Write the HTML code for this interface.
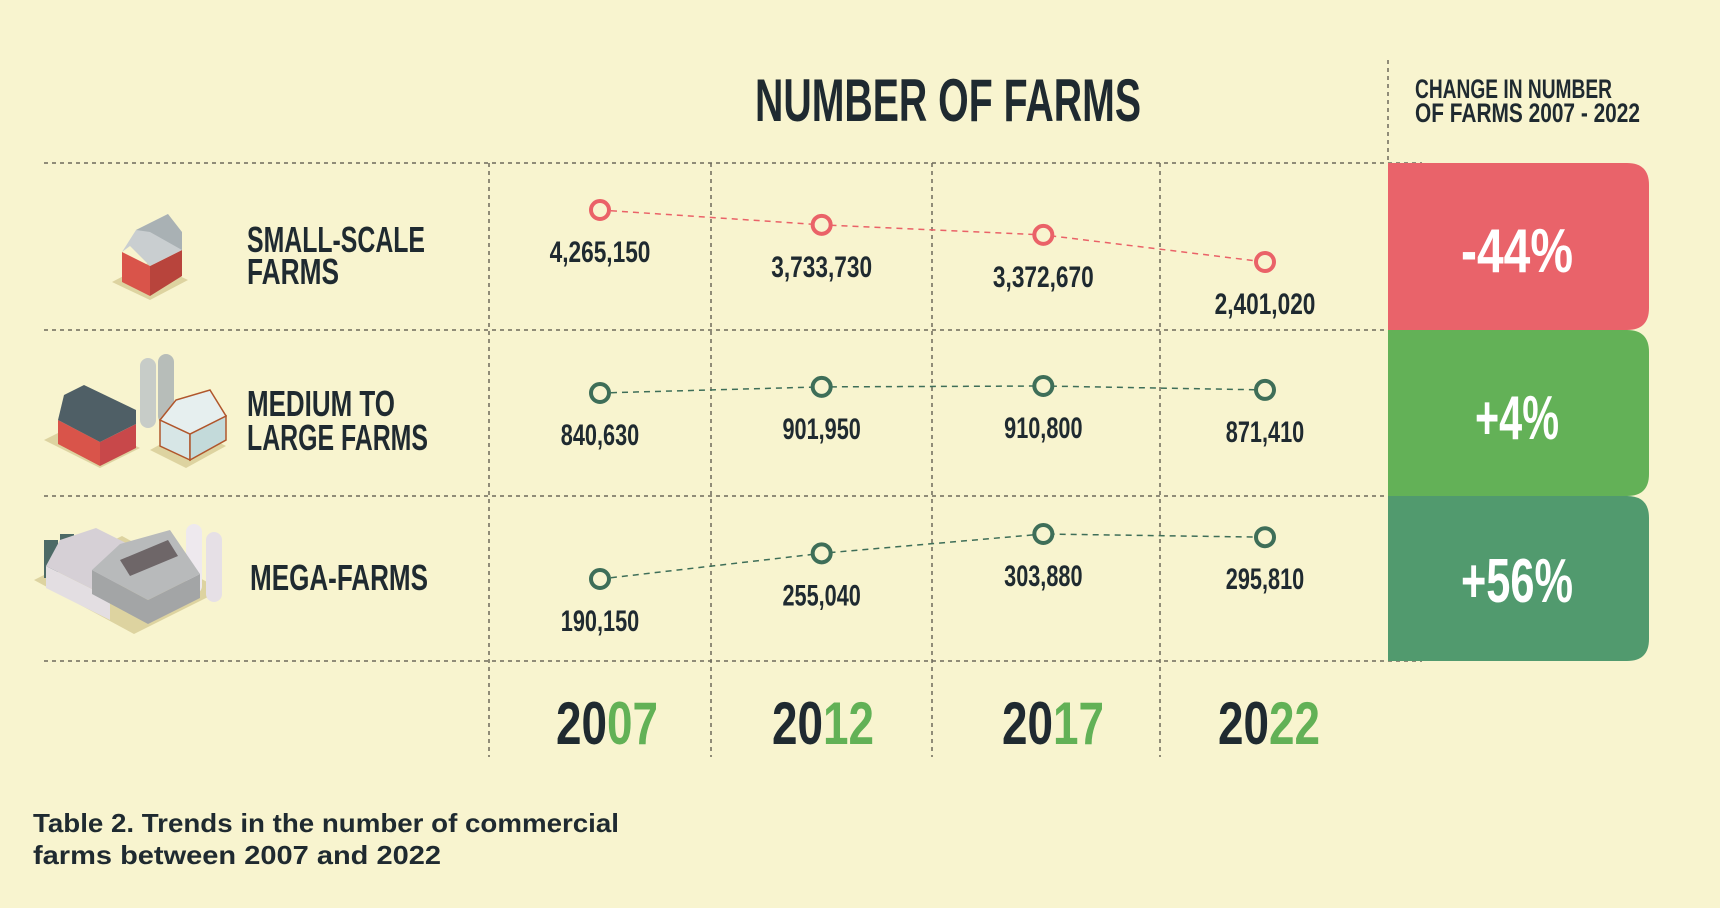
<!DOCTYPE html>
<html><head><meta charset="utf-8"><style>
html,body{margin:0;padding:0;background:#f8f4cf;}
svg{display:block;font-family:"Liberation Sans",sans-serif;}
</style></head><body>
<svg id="chart" width="1720" height="908" viewBox="0 0 1720 908" xmlns="http://www.w3.org/2000/svg">
<rect width="1720" height="908" fill="#f8f4cf"/>
<g id="grid" stroke="#6d6a5c" stroke-width="1.5" stroke-dasharray="4 4" fill="none">
<line x1="44" y1="163" x2="1422" y2="163"/><line x1="44" y1="330" x2="1422" y2="330"/>
<line x1="44" y1="496" x2="1422" y2="496"/><line x1="44" y1="661" x2="1422" y2="661"/>
<line x1="489" y1="163" x2="489" y2="757"/><line x1="711" y1="163" x2="711" y2="757"/>
<line x1="932" y1="163" x2="932" y2="757"/><line x1="1160" y1="163" x2="1160" y2="757"/>
<line x1="1388" y1="60" x2="1388" y2="163"/>
</g>
<text x="755" y="121" font-size="60" font-weight="bold" fill="#1f2a30" textLength="386" lengthAdjust="spacingAndGlyphs">NUMBER OF FARMS</text>
<text x="1415" y="98" font-size="27" font-weight="bold" fill="#1f2a30" textLength="197" lengthAdjust="spacingAndGlyphs">CHANGE IN NUMBER</text>
<text x="1415" y="122" font-size="27" font-weight="bold" fill="#1f2a30" textLength="225" lengthAdjust="spacingAndGlyphs">OF FARMS 2007 - 2022</text>

<g fill="#1f2a30" font-weight="bold" font-size="36">
<text x="247" y="252" textLength="178" lengthAdjust="spacingAndGlyphs">SMALL-SCALE</text>
<text x="247" y="284" textLength="92" lengthAdjust="spacingAndGlyphs">FARMS</text>
<text x="247" y="416" textLength="148" lengthAdjust="spacingAndGlyphs">MEDIUM TO</text>
<text x="247" y="450" textLength="181" lengthAdjust="spacingAndGlyphs">LARGE FARMS</text>
<text x="250" y="590" textLength="178" lengthAdjust="spacingAndGlyphs">MEGA-FARMS</text>
</g>

<!-- icons -->
<g>
<polygon points="112,282 150,300 188,280 150,262" fill="#ddd3a0"/>
<polygon points="122,252 150,266 150,296 122,282" fill="#d9544a"/>
<polygon points="150,266 182,250 182,276 150,296" fill="#b8443c"/>
<polygon points="122,252 136,230 168,214 182,250 150,266 130,246" fill="#c9ced0"/>
<polygon points="136,230 168,214 182,232 182,250 150,232" fill="#a9b1b4"/>
</g>
<g>
<polygon points="44,440 100,468 140,448 84,420" fill="#ddd3a0"/>
<rect x="140" y="358" width="16" height="70" rx="8" fill="#c7ccc8"/>
<rect x="158" y="354" width="16" height="70" rx="8" fill="#b7bdb9"/>
<polygon points="58,420 100,442 100,466 58,444" fill="#d9544a"/>
<polygon points="100,442 136,424 136,448 100,466" fill="#c8484a"/>
<polygon points="58,420 64,395 84,385 136,410 136,424 100,442" fill="#4f5f66"/>
<polygon points="150,450 186,468 226,446 190,428" fill="#ddd3a0"/>
<polygon points="160,420 190,434 190,460 160,446" fill="#d7e6e6" stroke="#b0562c" stroke-width="1.5"/>
<polygon points="190,434 226,416 226,440 190,460" fill="#c3dada" stroke="#b0562c" stroke-width="1.5"/>
<polygon points="160,420 176,400 210,390 226,416 190,434" fill="#e6efef" stroke="#b0562c" stroke-width="1.5"/>
</g>
<g>
<polygon points="34,580 134,634 222,590 122,536" fill="#ddd3a0"/>
<rect x="44" y="540" width="14" height="38" fill="#4d6a66"/><rect x="60" y="534" width="14" height="38" fill="#4d6a66"/>
<polygon points="46,566 110,598 110,620 46,588" fill="#e3dee2"/>
<polygon points="46,566 60,540 96,528 140,550 110,598" fill="#d6d0d6"/>
<rect x="186" y="524" width="16" height="70" rx="8" fill="#eee9ee"/>
<rect x="206" y="532" width="16" height="70" rx="8" fill="#e6e0e6"/>
<polygon points="92,594 148,624 200,598 200,574 148,600 92,570" fill="#a3a5a6"/>
<polygon points="92,570 120,544 170,530 200,574 148,600" fill="#b8babb"/>
<polygon points="120,560 168,540 178,556 130,576" fill="#6e6668"/>
</g>

<g id="boxes"></g>
<g id="series"></g>
<g id="years"></g>

<text x="33" y="832" font-size="26" fill="#1f2a30" font-weight="bold" textLength="586" lengthAdjust="spacingAndGlyphs">Table 2. Trends in the number of commercial</text>
<text x="33" y="864" font-size="26" fill="#1f2a30" font-weight="bold" textLength="408" lengthAdjust="spacingAndGlyphs">farms between 2007 and 2022</text>
</svg>
<script>
const years = ["2007","2012","2017","2022"];
const smallFarms = [4265150, 3733730, 3372670, 2401020];
const mediumFarms = [840630, 901950, 910800, 871410];
const megaFarms = [190150, 255040, 303880, 295810];
const changes = ["-44%","+4%","+56%"];

const NS = "http://www.w3.org/2000/svg";
function mk(tag, attrs, parent){const e=document.createElementNS(NS,tag);for(const k in attrs)e.setAttribute(k,attrs[k]);parent.appendChild(e);return e;}
function xScale(i){return 600 + i*((1265-600)/3);}
// per-row linear y scales: [valueMin, pixelAtMin, valueMax, pixelAtMax]
function makeY(vLo,pLo,vHi,pHi){return v=>pLo+(v-vLo)*(pHi-pLo)/(vHi-vLo);}
const rows = [
 {vals:smallFarms, y:makeY(2401020,262,4265150,210), color:"#ea6268", name:"small"},
 {vals:mediumFarms, y:makeY(840630,393,910800,386), color:"#3e6e58", name:"medium"},
 {vals:megaFarms, y:makeY(190150,579,303880,534), color:"#3e6e58", name:"mega"}
];
const fmt=v=>v.toLocaleString("en-US");
const sg=document.getElementById("series");
rows.forEach(r=>{
  const pts=r.vals.map((v,i)=>[xScale(i),r.y(v)]);
  const pl=mk("polyline",{points:pts.map(p=>p.join(",")).join(" "),fill:"none",stroke:r.color,"stroke-width":1.5,"stroke-dasharray":"6 5"},sg);
  
  
  pts.forEach((p,i)=>{
    const c=mk("circle",{cx:p[0],cy:p[1],r:9,fill:"#f8f4cf",stroke:r.color,"stroke-width":4},sg);
    
    
    const s=fmt(r.vals[i]);
    const t=mk("text",{x:p[0],y:p[1]+52,"text-anchor":"middle","font-size":30,"font-weight":"bold",fill:"#1f2a30",textLength:s.length*11.2,lengthAdjust:"spacingAndGlyphs"},sg);
    t.textContent=s;
    
    
  });
});
const bg=document.getElementById("boxes");
const boxColors=["#e9636a","#63b157","#519a6e"];
const boxY=[163,330,496,661];
const pctBase=[272,439,602];
changes.forEach((c,i)=>{
  const y0=boxY[i],y1=boxY[i+1],x0=1388,x1=1649,r=22;
  const p=mk("path",{d:`M${x0},${y0} H${x1-r} Q${x1},${y0} ${x1},${y0+r} V${y1-r} Q${x1},${y1} ${x1-r},${y1} H${x0} Z`,fill:boxColors[i]},bg);
  
  
  const t=mk("text",{x:1517,y:pctBase[i],"text-anchor":"middle","font-size":62,"font-weight":"bold",fill:"#ffffff",textLength:c.length*28,lengthAdjust:"spacingAndGlyphs"},bg);
  t.textContent=c;
  
  
});
const yg=document.getElementById("years");
const yearX=[607,823,1053,1269];
years.forEach((yr,i)=>{
  const t=mk("text",{x:yearX[i],y:744,"text-anchor":"middle","font-size":60,"font-weight":"bold",textLength:102,lengthAdjust:"spacingAndGlyphs"},yg);
  const a=document.createElementNS(NS,"tspan");a.setAttribute("fill","#1f2a30");a.textContent=yr.slice(0,2);t.appendChild(a);
  const b=document.createElementNS(NS,"tspan");b.setAttribute("fill","#62b156");b.textContent=yr.slice(2);t.appendChild(b);
  
  
});
</script>
</body></html>
